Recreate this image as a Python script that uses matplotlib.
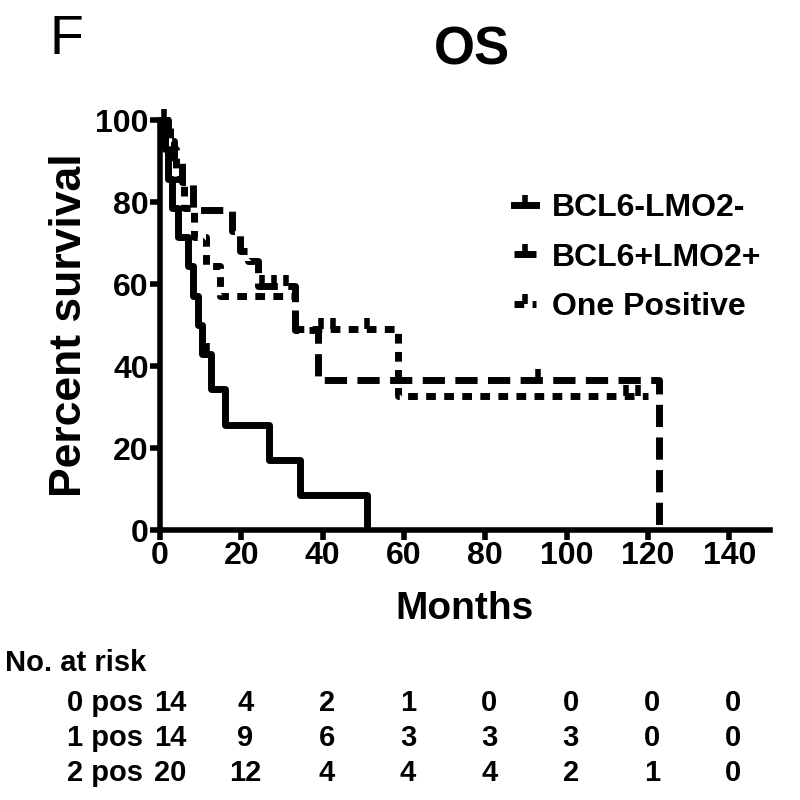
import matplotlib
matplotlib.use('Agg')
import matplotlib.pyplot as plt
from matplotlib.path import Path
from matplotlib.lines import Line2D
import matplotlib.transforms as mtransforms

# ---- data ----
neg_t = [0, 1.2, 2.0, 3.0, 4.4, 7.0, 8.2, 9.3, 10.3, 12.5, 16.0, 26.7, 34.5, 51.0]
neg_s = [100, 92.9, 85.7, 78.6, 71.4, 64.3, 57.1, 50.0, 42.9, 34.3, 25.7, 17.1, 8.6, 0.0]
neg_cens_t = [1.0, 11.5]
neg_cens_s = [100, 42.9]

pos_t = [0, 2.0, 3.5, 5.5, 8.0, 17.8, 19.7, 21.7, 24.0, 33.3, 38.8, 122.7]
pos_s = [100, 95, 90, 85, 78.1, 73.0, 68.0, 65.5, 59.5, 48.9, 36.6, 0.0]
pos_cens_t = [25.0, 28.0, 31.0, 93.0]
pos_cens_s = [59.5, 59.5, 59.5, 36.6]

one_t = [0, 2.5, 4.0, 6.0, 8.4, 11.4, 14.8, 33.3, 58.5, 120.0]
one_s = [100, 92.9, 85.7, 78.6, 71.4, 64.3, 57.1, 49.0, 32.6, 32.6]
one_cens_t = [39.5, 42.5, 51.0, 114.5, 117.5]
one_cens_s = [49.0, 49.0, 49.0, 32.6, 32.6]

labels = ['BCL6-LMO2-', 'BCL6+LMO2+', 'One Positive']

risk_times = [0, 20, 40, 60, 80, 100, 120, 140]
risk_rows = ['0 pos', '1 pos', '2 pos']
risk_0 = [14, 4, 2, 1, 0, 0, 0, 0]
risk_1 = [14, 9, 6, 3, 3, 3, 0, 0]
risk_2 = [20, 12, 4, 4, 4, 2, 1, 0]

# ---- figure ----
plt.rcParams['font.family'] = ['Liberation Sans', 'DejaVu Sans']
fig = plt.figure(figsize=(8, 8), dpi=100)
ax = fig.add_axes([0.2, 0.3375, 0.7625, 0.5125])

LW = 5
tick_marker = Path([(0, 0), (0, 1)])
styles = [
    dict(linestyle='-'),
    dict(linestyle=(0, (3.2, 1.5))),
    dict(linestyle=(0, (1.4, 1.2))),
]
series = [(neg_t, neg_s, neg_cens_t, neg_cens_s),
          (pos_t, pos_s, pos_cens_t, pos_cens_s),
          (one_t, one_s, one_cens_t, one_cens_s)]

handles = []
for (t, s, ct, cs), st, lab in zip(series, styles, labels):
    ax.step(t, s, where='post', color='black', lw=LW, clip_on=False,
            solid_capstyle='butt', dash_capstyle='butt', **st)
    ax.plot(ct, cs, linestyle='none', marker=tick_marker, ms=16, mew=4,
            color='black', clip_on=False)
    handles.append(Line2D([0], [0], color='black', lw=LW, marker=tick_marker,
                          ms=14, mew=4, **st))

ax.set_xlim(0, 150)
ax.set_ylim(0, 100)
ax.set_xticks(range(0, 141, 20))
ax.set_yticks(range(0, 101, 20))
for sp in ['top', 'right']:
    ax.spines[sp].set_visible(False)
for sp in ['left', 'bottom']:
    ax.spines[sp].set_linewidth(4)
ax.tick_params(direction='out', length=7, width=4, labelsize=23, pad=1)
for lbl in ax.get_xticklabels() + ax.get_yticklabels():
    lbl.set_fontweight('bold')

ax.set_xlabel('Months', fontsize=28, fontweight='bold', labelpad=14)
ax.set_ylabel('Percent survival', fontsize=32, fontweight='bold', labelpad=4)

leg = ax.legend(handles, labels, loc='upper left', bbox_to_anchor=(0.6425, 0.759),
                bbox_transform=fig.transFigure, frameon=False,
                prop=dict(size=23, weight='bold'), handlelength=0.7,
                handletextpad=0.5, labelspacing=0.62, borderpad=0, borderaxespad=0)

fig.text(0.59, 0.937, 'OS', ha='center', va='center', fontsize=38, fontweight='bold')
fig.text(0.083, 0.95, 'F', ha='center', va='center', fontsize=40)

# ---- number at risk table ----
TFS = 21
fig.text(0.006, 1 - 663 / 800, 'No. at risk', ha='left', va='center', fontsize=TFS,
         fontweight='bold')
trans = mtransforms.blended_transform_factory(ax.transData, fig.transFigure)
row_y = [1 - 703 / 800, 1 - 738 / 800, 1 - 773 / 800]
for name, vals, yy in zip(risk_rows, [risk_0, risk_1, risk_2], row_y):
    fig.text(143 / 800, yy, name, ha='right', va='center', fontsize=TFS,
             fontweight='bold')
    for i, (tm, v) in enumerate(zip(risk_times, vals)):
        xx = tm + (2.5 if i == 0 else 1.0)
        ax.text(xx, yy, str(v), transform=trans, ha='center', va='center',
                fontsize=TFS, fontweight='bold')

fig.savefig('out.png', dpi=100)
